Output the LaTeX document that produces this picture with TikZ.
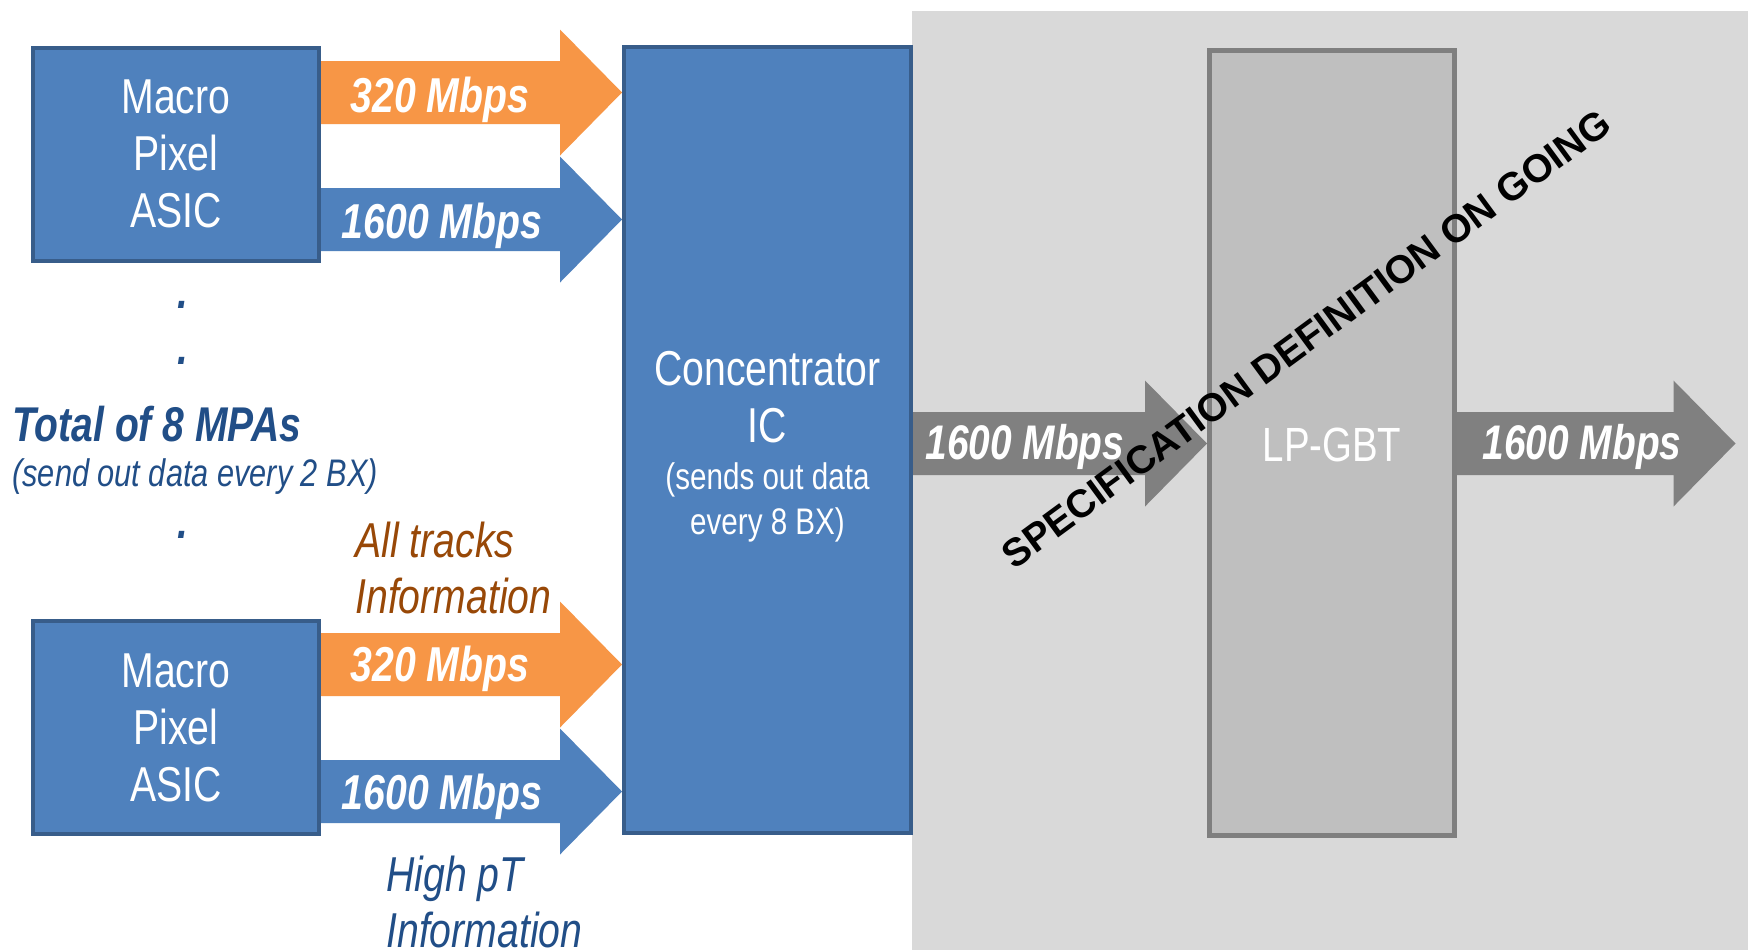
\documentclass[tikz,border=0pt]{standalone}
\usepackage{fontspec}
\setmainfont{Liberation Sans}[FakeStretch=0.8]
\newfontfamily\widefont{Liberation Sans}
\usetikzlibrary{calc}

\definecolor{boxblue}{HTML}{4F81BD}
\definecolor{boxedge}{HTML}{385D8A}
\definecolor{arroworange}{HTML}{F79646}
\definecolor{arrowgray}{HTML}{808080}
\definecolor{panelgray}{HTML}{D9D9D9}
\definecolor{chipgray}{HTML}{BFBFBF}
\definecolor{chipedge}{HTML}{7F7F7F}
\definecolor{navytext}{HTML}{214E87}
\definecolor{rusttext}{HTML}{984807}

% wide block arrow from #1 to #2 (same height), filled with style #3
\newcommand{\blockarrow}[3]{%
  \fill[#3] let \p1=(#1), \p2=(#2) in
    (\x1,\y1+15.75pt) -- (\x2-31pt,\y1+15.75pt) -- (\x2-31pt,\y1+31.5pt)
    -- (\x2,\y1) -- (\x2-31pt,\y1-31.5pt) -- (\x2-31pt,\y1-15.75pt)
    -- (\x1,\y1-15.75pt) -- cycle;}

\tikzset{
  asicbox/.style={draw=boxedge, fill=boxblue, line width=2pt, text=white,
    align=center, inner sep=0pt, font=\fontsize{24.5}{28.5}\selectfont},
  gbtbox/.style={draw=chipedge, fill=chipgray, line width=2.5pt, inner sep=0pt},
  ratelabel/.style={text=white, anchor=base, inner sep=0pt,
    font=\bfseries\itshape\fontsize{24.5}{28}\selectfont},
  grayrate/.style={ratelabel, font=\bfseries\itshape\fontsize{24.3}{28}\selectfont},
  dotmark/.style={text=navytext, anchor=base, inner sep=0pt,
    font=\bfseries\itshape\fontsize{24}{28}\selectfont},
  notetext/.style={inner sep=0pt, align=left, anchor=west,
    font=\itshape\fontsize{24.5}{28.35}\selectfont},
}

\begin{document}
\begin{tikzpicture}[x=0.5pt, y=-0.5pt]
\useasboundingbox (0,0) rectangle (1748,950);
\fill[white] (0,0) rectangle (1748,950);

% grey panel behind the link stage
\fill[panelgray] (912,11) rectangle (1748,950);

% chips
\node[asicbox, minimum width=143pt, minimum height=106.5pt] (mpa1) at (176,154) {Macro\\Pixel\\ASIC};
\node[asicbox, minimum width=143pt, minimum height=106.5pt] (mpa2) at (176,727.5) {Macro\\Pixel\\ASIC};
\node[asicbox, minimum width=143.5pt, minimum height=393pt] (conc) at (767.5,440) {};
\node[gbtbox, minimum width=122.5pt, minimum height=392.5pt] (lpgbt) at (1332,443) {};

% row heights of the data links
\coordinate (r1) at (0,92.5);
\coordinate (r2) at (0,219.5);
\coordinate (r3) at (0,664.5);
\coordinate (r4) at (0,791.5);
\coordinate (r5) at (0,443.5);
\coordinate (out) at (1735.5,443.5);

% data links
\blockarrow{mpa1.east |- r1}{conc.west |- r1}{arroworange}
\blockarrow{mpa1.east |- r2}{conc.west |- r2}{boxblue}
\blockarrow{mpa2.east |- r3}{conc.west |- r3}{arroworange}
\blockarrow{mpa2.east |- r4}{conc.west |- r4}{boxblue}
\blockarrow{conc.east |- r5}{lpgbt.west |- r5}{arrowgray}
\blockarrow{lpgbt.east |- r5}{out}{arrowgray}

% link rates
\node[ratelabel] (rate1) at (440,112) {320 Mbps};
\node[ratelabel] (rate2) at (442,238) {1600 Mbps};
\node[ratelabel] (rate3) at (440,681.5) {320 Mbps};
\node[ratelabel] (rate4) at (442,809) {1600 Mbps};
\node[grayrate] (rate5) at (1025,459.5) {1600 Mbps};
\node[grayrate] (rate6) at (1582,459.5) {1600 Mbps};

% concentrator and LP-GBT captions
\node[text=white, align=center, inner sep=0pt, font=\fontsize{24.5}{28.5}\selectfont]
  (conctitle) at (767.5,397) {Concentrator\\IC};
\node[text=white, align=center, inner sep=0pt, font=\fontsize{18.5}{22.5}\selectfont]
  (concnote) at (767.5,502) {(sends out data\\every 8 BX)};
\node[text=white, anchor=base, inner sep=0pt, font=\fontsize{24}{28}\selectfont]
  (gbtname) at (1332,461.5) {LP-GBT};

% MPA count
\node[dotmark] (dot1) at (183,308) {.};
\node[dotmark] (dot2) at (183,364) {.};
\node[dotmark] (dot3) at (183,538) {.};
\node[text=navytext, anchor=base west, inner sep=0pt,
  font=\bfseries\itshape\fontsize{24.4}{28}\selectfont] (total) at (12,441.7) {Total of 8 MPAs};
\node[text=navytext, anchor=base west, inner sep=0pt,
  font=\itshape\fontsize{19.2}{23}\selectfont] (period) at (12,486.7) {(send out data every 2 BX)};

% stream descriptions
\node[notetext, text=rusttext] (alltracks) at (355,568) {All tracks\\Information};
\node[notetext, text=navytext] (highpt) at (386,902) {High pT\\Information};

% status stamp
\node[rotate=36.3, inner sep=0pt, text=black,
  font=\widefont\bfseries\fontsize{19.6}{23}\selectfont] (stamp) at (1306,339)
  {SPECIFICATION DEFINITION ON GOING};
\end{tikzpicture}
\end{document}
